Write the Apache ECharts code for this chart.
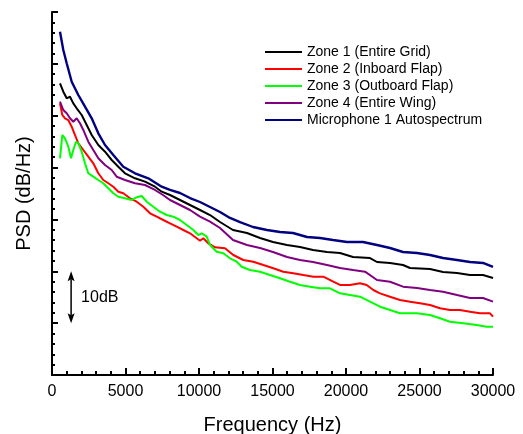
<!DOCTYPE html>
<html><head><meta charset="utf-8">
<script src="https://cdn.jsdelivr.net/npm/echarts@6/dist/echarts.min.js"></script>
<style>html,body{margin:0;padding:0;background:#fff}#c{width:523px;height:434px}</style>
</head><body><div id="c"></div>
<script>
// Axis settings (data units)
const xMin = 0, xMax = 30000, xStep = 5000;
const yMin = 0, yMax = 70, yStep = 10;   // PSD in dB, labels hidden (relative scale)
const seriesNames = ['Zone 1 (Entire Grid)', 'Zone 2 (Inboard Flap)', 'Zone 3 (Outboard Flap)', 'Zone 4 (Entire Wing)', 'Microphone 1 Autospectrum'];
const seriesColors = ['#000000', '#ff0000', '#00ff00', '#800080', '#000080'];

// Zone 1 (Entire Grid)
const zone1Freq = [544,769,1000,1225,1449,1680,2020,2361,2701,3150,3606,4061,4510,4966,5646,6327,7007,7463,8027,8708,9388,10068,10749,11429,12313,13265,14150,15034,15986,16871,17755,18707,19592,20476,21633,22110,22994,23879,24355,25715,26600,27552,28436,29320,30000];
const zone1Psd  = [56.25,54.63,53.36,53.67,52.39,51.43,50.14,48.21,46.28,44.35,43.06,41.46,40.17,38.90,37.93,37.28,36.31,35.35,34.71,33.75,32.78,31.82,30.85,29.50,27.96,27.38,26.42,25.65,25.07,24.68,24.11,23.72,23.53,22.76,22.56,21.79,21.60,21.21,20.63,20.44,19.86,19.67,19.28,19.28,18.71];

// Zone 2 (Inboard Flap)
const zone2Freq = [544,701,884,1109,1340,1565,1789,2129,2469,2810,3150,3490,3830,4170,4510,4850,5306,5762,6211,6667,7123,7572,8027,8483,8932,9388,9844,10068,10293,10633,11089,11769,12334,13014,13694,14374,15055,15735,16415,17096,17776,18456,19136,19592,20272,20952,21409,21858,22313,22994,23674,24354,25034,25715,26395,27075,27755,28436,29116,29796,30000];
const zone2Psd  = [52.39,50.14,49.50,49.17,47.88,46.28,44.68,43.39,42.10,40.82,38.90,37.60,36.97,36.31,35.35,35.04,34.07,33.42,32.45,31.18,30.53,29.89,29.25,28.60,27.96,27.33,26.36,25.90,26.36,25.40,24.63,24.43,23.14,22.18,21.85,21.21,20.58,19.92,19.61,19.28,18.96,18.96,17.99,17.36,17.36,17.68,17.36,16.39,15.75,15.10,14.46,14.14,13.83,13.50,12.86,12.53,12.53,12.21,11.90,11.90,11.24];

// Zone 3 (Outboard Flap)
const zone3Freq = [544,701,884,1109,1293,1449,1633,1789,2020,2245,2469,2810,3150,3490,3830,4170,4510,4966,5422,5762,6102,6442,6891,7347,7803,8252,8708,9163,9612,9953,10184,10524,10749,11204,11653,12109,12565,12905,13469,14150,14830,15511,16191,16871,17551,18232,18912,19592,20272,20952,21633,22313,22994,23674,24810,25715,26395,27075,27981,28891,29571,30000];
const zone3Psd  = [41.79,46.28,45.65,44.03,41.79,43.39,44.99,44.68,43.06,40.82,38.90,38.24,37.60,36.97,36.00,35.04,34.38,34.07,33.75,34.27,34.52,33.42,32.45,31.49,30.85,30.53,29.89,28.93,27.96,27.00,27.33,26.67,25.07,23.78,23.47,22.50,21.85,20.88,20.25,19.92,19.28,18.65,17.99,17.36,17.03,16.72,16.72,15.75,15.43,15.10,14.14,13.17,12.53,11.90,11.90,11.57,10.93,10.28,9.97,9.64,9.31,9.31];

// Zone 4 (Entire Wing)
const zone4Freq = [544,769,1000,1225,1449,1680,1905,2129,2469,2810,3150,3606,4061,4401,4966,5646,6327,7007,7551,8027,8708,9388,10068,10749,11429,12313,13265,14150,15034,15986,16871,17755,18707,19592,20476,21293,22110,22994,23879,24831,25715,26600,27552,28436,29320,30000];
const zone4Psd  = [52.70,51.10,50.47,49.50,48.85,49.50,48.54,47.25,44.99,43.39,41.79,40.50,39.53,38.24,37.60,36.97,36.64,35.68,34.71,33.75,32.78,31.82,30.53,29.56,28.35,26.03,25.07,24.49,23.72,22.76,22.18,21.79,21.21,20.63,20.25,19.93,18.32,17.99,17.03,16.78,16.39,16.07,15.43,14.85,14.85,14.14];

// Microphone 1 Autospectrum
const micFreq = [544,769,1000,1340,1789,2245,2701,3150,3606,4170,4850,5646,6551,7463,8027,8708,9388,10068,10749,11429,12109,12790,13674,14626,15511,16395,17348,18232,19116,20069,21157,22110,22994,23879,24831,25715,26600,27552,28436,29320,30000];
const micPsd  = [66.20,62.67,60.11,56.56,54.00,51.74,49.50,46.61,44.35,42.42,40.17,38.90,37.93,36.31,35.68,35.10,34.13,33.36,32.40,31.43,30.28,29.50,28.54,27.96,27.58,27.38,26.61,26.42,26.03,25.65,25.65,25.07,24.49,23.72,23.53,23.14,22.56,22.18,21.79,21.60,20.83];

// Scale-bar annotation (10 dB)
const barFreq = 1300, barLow = 10, barHigh = 20, barLabel = '10dB';

const zip = (a, b) => a.map((v, i) => [v, b[i]]);
const allData = [zip(zone1Freq, zone1Psd), zip(zone2Freq, zone2Psd), zip(zone3Freq, zone3Psd), zip(zone4Freq, zone4Psd), zip(micFreq, micPsd)];

const FONT = 'Liberation Sans, Arial, sans-serif';
const chart = echarts.init(document.getElementById('c'), null, {renderer: 'canvas'});
chart.setOption({
  animation: false,
  backgroundColor: '#fff',
  grid: {left: 52, right: 30, top: 12, bottom: 59, containLabel: false, outerBoundsMode: 'none'},
  legend: {
    orient: 'vertical', left: 265, top: 45, padding: 0,
    itemWidth: 37, itemHeight: 10, itemGap: 3,
    textStyle: {fontFamily: FONT, fontSize: 14, color: '#000'},
    data: seriesNames.map(n => ({name: n, icon: 'path://M0,4 L37,4 L37,6 L0,6 Z'}))
  },
  xAxis: {
    type: 'value', min: xMin, max: xMax, interval: xStep,
    name: 'Frequency (Hz)', nameLocation: 'middle', nameGap: 40,
    nameTextStyle: {fontFamily: FONT, fontSize: 20, color: '#000'},
    axisLine: {lineStyle: {color: '#000', width: 2}},
    axisTick: {inside: true, length: 7, lineStyle: {color: '#000', width: 2}},
    minorTick: {show: true, splitNumber: 5, length: 4, lineStyle: {color: '#000', width: 2}},
    axisLabel: {fontFamily: FONT, fontSize: 16, color: '#000', margin: 9, formatter: v => String(v)},
    splitLine: {show: false}
  },
  yAxis: {
    type: 'value', min: yMin, max: yMax, interval: yStep,
    name: 'PSD (dB/Hz)', nameLocation: 'middle', nameGap: 18,
    nameTextStyle: {fontFamily: FONT, fontSize: 20, color: '#000'},
    axisLine: {show: true, lineStyle: {color: '#000', width: 2}},
    axisTick: {show: true, inside: true, length: 6, lineStyle: {color: '#000', width: 2}},
    minorTick: {show: true, splitNumber: 5, length: 3, lineStyle: {color: '#000', width: 2}},
    axisLabel: {show: false},
    splitLine: {show: false}
  },
  series: seriesNames.map((n, i) => ({
    name: n, type: 'line', data: allData[i],
    showSymbol: false, symbol: 'none',
    lineStyle: {color: seriesColors[i], width: i === 4 ? 2.4 : 2},
    itemStyle: {color: seriesColors[i]},
    z: i === 4 ? 3 : 2
  }))
});

// 10 dB scale bar
const pTop = chart.convertToPixel({gridIndex: 0}, [barFreq, barHigh]);
const pBot = chart.convertToPixel({gridIndex: 0}, [barFreq, barLow]);
const hx = pTop[0], hl = 10, hw = 3.5, notch = 2;
chart.setOption({
  graphic: [
    {type: 'line', shape: {x1: hx, y1: pTop[1] + hl - notch, x2: hx, y2: pBot[1] - hl + notch}, style: {stroke: '#000', lineWidth: 1.5}},
    {type: 'polygon', shape: {points: [[hx, pTop[1]], [hx - hw, pTop[1] + hl], [hx, pTop[1] + hl - notch], [hx + hw, pTop[1] + hl]]}, style: {fill: '#000'}},
    {type: 'polygon', shape: {points: [[hx, pBot[1]], [hx - hw, pBot[1] - hl], [hx, pBot[1] - hl + notch], [hx + hw, pBot[1] - hl]]}, style: {fill: '#000'}},
    {type: 'text', x: hx + 10, y: (pTop[1] + pBot[1]) / 2, style: {text: barLabel, fontFamily: FONT, fontSize: 16, fill: '#000', verticalAlign: 'middle', align: 'left'}}
  ]
});
</script>
</body></html>
